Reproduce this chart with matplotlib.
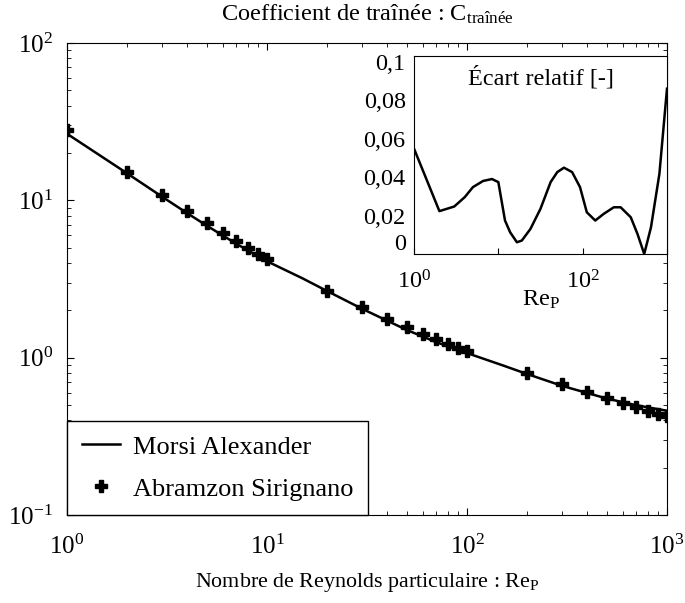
import numpy as np
import matplotlib
matplotlib.use('Agg')
import matplotlib.pyplot as plt
import matplotlib.transforms as mtransforms

plt.rcParams['font.family'] = ['Liberation Serif', 'DejaVu Serif']
plt.rcParams['mathtext.fontset'] = 'custom'
plt.rcParams['mathtext.rm'] = 'Liberation Serif'
plt.rcParams['mathtext.it'] = 'Liberation Serif:italic'

# Morsi Alexander curve
re_line = [1, 2, 3, 4, 5, 7, 10, 15, 20, 30, 50, 70, 100, 150, 200, 300, 500, 700, 1000]
cd_line = [26.5, 14.83, 10.51, 8.27, 6.90, 5.31, 4.10, 3.20, 2.65, 2.04, 1.50, 1.257,
           1.07, 0.896, 0.787, 0.661, 0.550, 0.499, 0.460]

# Abramzon Sirignano points
re_pts = [1, 2, 3, 4, 5, 6, 7, 8, 9, 10, 20, 30, 40, 50, 60, 70, 80, 90, 100,
          200, 300, 400, 500, 600, 700, 800, 900, 1000]
cd_pts = [28.0, 15.18, 10.77, 8.52, 7.14, 6.20, 5.52, 5.00, 4.59, 4.26, 2.67, 2.09,
          1.77, 1.566, 1.42, 1.314, 1.229, 1.159, 1.10, 0.804, 0.677, 0.603, 0.552,
          0.514, 0.485, 0.461, 0.441, 0.424]

# relative error (inset)
re_err = [1, 2, 3, 4, 5, 6.6, 8.4, 10, 12, 13.8, 16.6, 19, 24, 31.6, 41.7, 50, 60,
          75, 93, 112, 141, 178, 234, 282, 372, 447, 537, 646, 813, 1000]
err = [0.0548, 0.0223, 0.0247, 0.0296, 0.0348, 0.038, 0.039, 0.0374, 0.0174, 0.0113,
       0.0061, 0.007, 0.013, 0.0235, 0.0374, 0.0426, 0.0449, 0.0426, 0.0348, 0.0217,
       0.0174, 0.0209, 0.0243, 0.0243, 0.0191, 0.0104, 0.0, 0.0139, 0.0417, 0.086]

fig = plt.figure(figsize=(6.85, 6.03), dpi=100)
ax = fig.add_axes([0.0978, 0.1459, 0.8759, 0.7828])
ax.plot(re_line, cd_line, color='black', linewidth=1.8, label='Morsi Alexander')
ax.plot(re_pts, cd_pts, linestyle='none', marker='P', markersize=8, color='black',
        label='Abramzon Sirignano')
ax.set_xscale('log')
ax.set_yscale('log')
ax.set_xlim(1, 1000)
ax.set_ylim(0.1, 100)
ax.tick_params(which='both', direction='in', top=True, right=True, labelsize=18)
ax.tick_params(axis='x', pad=14)
ax.tick_params(axis='y', pad=10)
ax.tick_params(which='major', length=5)
ax.tick_params(which='minor', length=3)
ax.set_title('Coefficient de traînée : C$_{\\mathrm{traînée}}$', fontsize=17.5, pad=16)
ax.set_xlabel('Nombre de Reynolds particulaire : Re$_{\\mathrm{P}}$', fontsize=15.8, labelpad=9)
leg = ax.legend(loc='lower left', bbox_to_anchor=(0, 0), borderaxespad=0, fontsize=19,
                fancybox=False, edgecolor='black', framealpha=1, handlelength=1.45,
                handletextpad=0.5, borderpad=0.55, labelspacing=0.7)
leg.get_frame().set_linewidth(1.0)

# inset
axi = fig.add_axes([0.6044, 0.5788, 0.3693, 0.3283])
axi.plot(re_err, err, color='black', linewidth=1.8)
axi.set_xscale('log')
axi.set_xlim(1, 1000)
axi.set_ylim(0, 0.103)
axi.set_xticks([1, 10, 100, 1000])
axi.set_xticklabels(['$\\mathdefault{10^{0}}$', '', '$\\mathdefault{10^{2}}$', ''])
axi.xaxis.set_minor_locator(matplotlib.ticker.NullLocator())
axi.set_yticks([0, 0.02, 0.04, 0.06, 0.08, 0.1])
axi.set_yticklabels(['0', '0,02', '0,04', '0,06', '0,08', '0,1'])
axi.tick_params(axis='y', length=0, labelsize=17.5, pad=6)
axi.tick_params(axis='x', direction='in', length=4, labelsize=17.5, pad=12)
axi.set_xlabel('Re$_{\\mathrm{P}}$', fontsize=17.5, labelpad=-4)
axi.text(0.5, 0.95, 'Écart relatif [-]', transform=axi.transAxes, ha='center', va='top',
         fontsize=17.5)
# lift the "0" label a bit, as in the original export
zero_lbl = axi.get_yticklabels()[0]
zero_lbl.set_transform(zero_lbl.get_transform() +
                       mtransforms.ScaledTranslation(0, 0.12, fig.dpi_scale_trans))

plt.savefig('out.png', dpi=100)
